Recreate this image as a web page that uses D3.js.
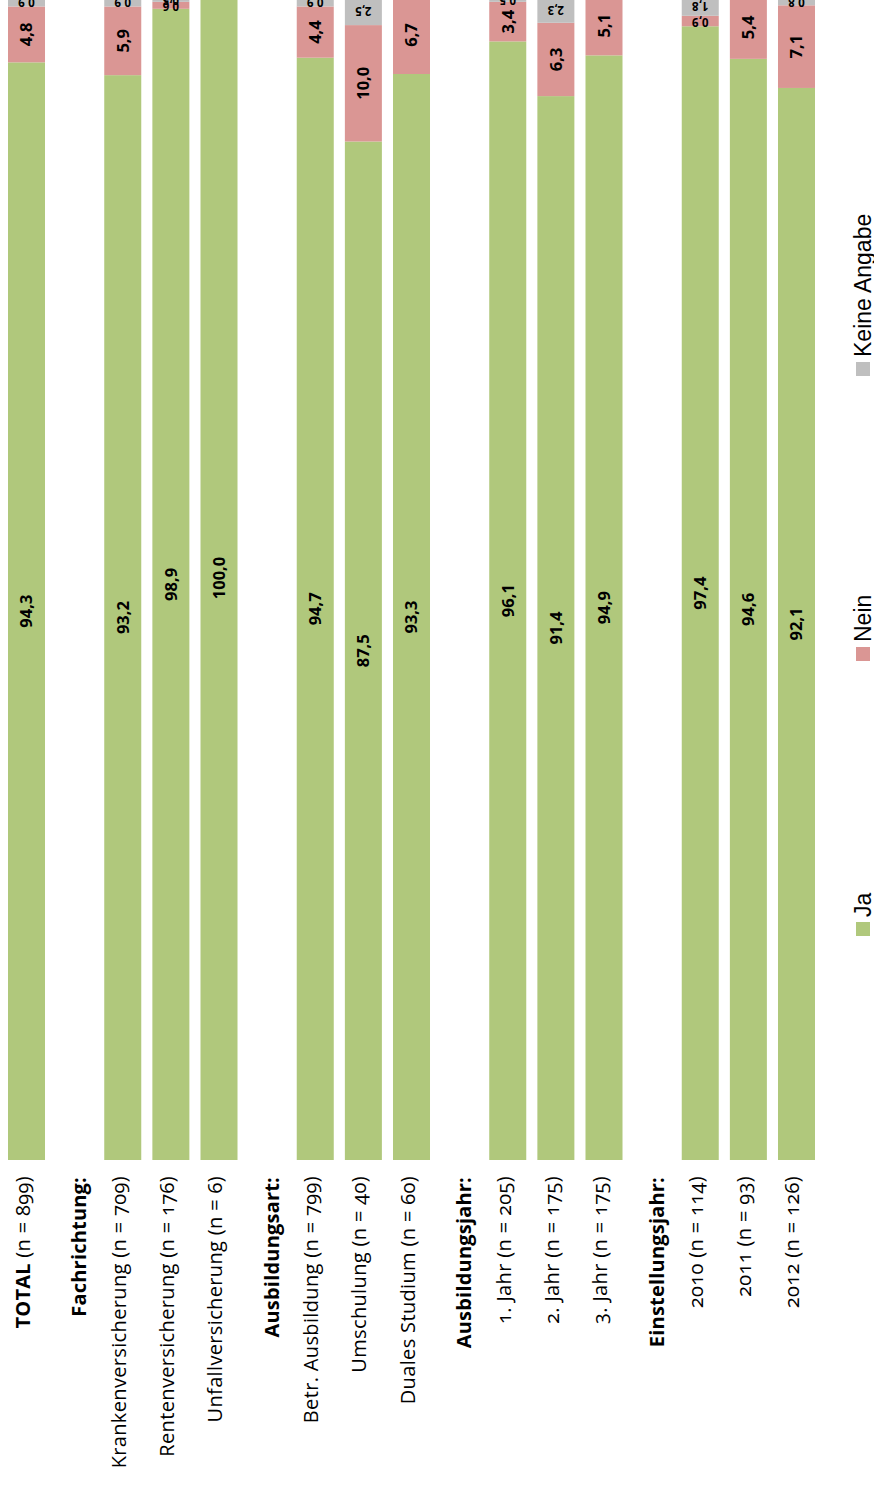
<!DOCTYPE html>
<html><head><meta charset="utf-8">
<script src="https://cdn.jsdelivr.net/npm/d3@7"></script>
<style>html,body{margin:0;padding:0;background:#fff;overflow:hidden}</style>
</head><body>
<svg id="chart" width="874" height="1485"></svg>
<script>
const categories = ["TOTAL", "Fachrichtung:", "Krankenversicherung", "Rentenversicherung", "Unfallversicherung",
  "Ausbildungsart:", "Betr. Ausbildung", "Umschulung", "Duales Studium",
  "Ausbildungsjahr:", "1. Jahr", "2. Jahr", "3. Jahr",
  "Einstellungsjahr:", "2010", "2011", "2012"];
const sampleSizes = [899, null, 709, 176, 6, null, 799, 40, 60, null, 205, 175, 175, null, 114, 93, 126];
const jaValues    = [94.3, null, 93.2, 98.9, 100.0, null, 94.7, 87.5, 93.3, null, 96.1, 91.4, 94.9, null, 97.4, 94.6, 92.1];
const neinValues  = [4.8, null, 5.9, 0.6, 0, null, 4.4, 10.0, 6.7, null, 3.4, 6.3, 5.1, null, 0.9, 5.4, 7.1];
const keineValues = [0.9, null, 0.9, 0.5, 0, null, 0.9, 2.5, 0, null, 0.5, 2.3, 0, null, 1.8, 0, 0.8];
const seriesNames = ["Ja", "Nein", "Keine Angabe"];
const seriesColors = ["#B0C87C", "#DA9694", "#BFBFBF"];

const svg = d3.select("#chart");
const x = d3.scaleBand().domain(categories).range([8, 815]).paddingInner(0.231).paddingOuter(0);
const y = d3.scaleLinear().domain([0, 100]).range([1160, -4]);
const fmt = v => v.toFixed(1).replace(".", ",");

const rows = categories.map((c, i) => ({c, i, n: sampleSizes[i], vals: [jaValues[i], neinValues[i], keineValues[i]]}))
  .filter(r => r.n !== null);

const segs = [];
rows.forEach(r => {
  let acc = 0;
  r.vals.forEach((v, k) => {
    segs.push({c: r.c, k, v, y0: acc, y1: acc + v});
    acc += v;
  });
});

const bars = svg.append("g");
bars.selectAll("rect").data(segs.filter(s => s.v > 0)).join("rect")
  .attr("x", d => x(d.c))
  .attr("width", x.bandwidth())
  .attr("y", d => y(d.y1))
  .attr("height", d => y(d.y0) - y(d.y1))
  .attr("fill", d => seriesColors[d.k]);

// value labels
const lab = svg.append("g").attr("font-family", "'Open Sans', sans-serif").attr("font-weight", 700).attr("fill", "#000");
segs.filter(s => s.v > 0).forEach(s => {
  const cx = x(s.c) + x.bandwidth() / 2;
  const cy = (y(s.y0) + y(s.y1)) / 2;
  if (s.v >= 3) {
    lab.append("text").attr("transform", `translate(${cx},${cy}) rotate(-90)`)
      .attr("text-anchor", "middle").attr("dy", "0.36em").attr("font-size", 16.5).text(fmt(s.v));
  } else {
    lab.append("text").attr("transform", `translate(${cx},${cy + 1}) rotate(180)`)
      .attr("text-anchor", "middle").attr("dy", "0.36em").attr("font-size", 11.5).text(fmt(s.v));
  }
});

// category labels
const cat = svg.append("g").attr("font-family", "'Open Sans', sans-serif").attr("font-size", 20)
  .attr("fill", "#000").style("font-variant-numeric", "oldstyle-nums");
categories.forEach((c, i) => {
  const cx = x(c) + x.bandwidth() / 2;
  const n = sampleSizes[i];
  if (n === null) {
    cat.append("text").attr("transform", `translate(${cx + 4.5},1177) rotate(-90)`)
      .attr("text-anchor", "end").attr("dy", "0.35em").attr("font-weight", 700).attr("letter-spacing", 0.2).text(c);
  } else {
    const t = cat.append("text").attr("transform", `translate(${cx - 4},1176) rotate(-90)`)
      .attr("text-anchor", "end").attr("dy", "0.35em").attr("font-weight", 400).attr("letter-spacing", 0.35);
    if (c === "TOTAL") {
      t.append("tspan").attr("font-weight", 700).attr("letter-spacing", 0.2).text("TOTAL");
      t.append("tspan").text(` (n = ${n})`);
    } else {
      t.text(`${c} (n = ${n})`);
    }
  }
});

// legend
const legY = [936, 661, 376];
const leg = svg.append("g").attr("font-family", "'Liberation Sans', Arial, sans-serif").attr("font-size", 23);
seriesNames.forEach((name, k) => {
  leg.append("rect").attr("x", 856).attr("y", legY[k] - 14).attr("width", 14).attr("height", 14).attr("fill", seriesColors[k]);
  leg.append("text").attr("transform", `translate(871,${legY[k] - 19}) rotate(-90)`).attr("text-anchor", "start").text(name);
});
</script>
</body></html>
